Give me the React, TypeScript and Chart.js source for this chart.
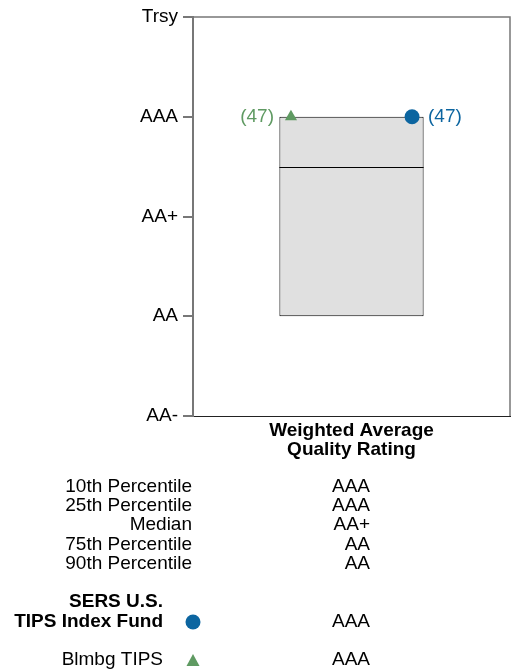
import React, { useEffect, useRef } from "react";
import { Chart, registerables } from "chart.js";

Chart.register(...registerables);

const ratingTicks = ["AA-", "AA", "AA+", "AAA", "Trsy"]; // values 1..5
const categoryLabel = ["Weighted Average", "Quality Rating"];
const categoryPos = 0.5;
// 10th, 25th, median, 75th, 90th (numeric rating scale)
const percentileValues = [4, 4, 3.5, 2, 2];
const percentileLabels = ["10th Percentile", "25th Percentile", "Median", "75th Percentile", "90th Percentile"];
const percentileText = ["AAA", "AAA", "AA+", "AA", "AA"];
const fundName = ["SERS U.S.", "TIPS Index Fund"];
const fundValue = 4;
const fundRank = 47;
const fundText = "AAA";
const benchName = "Blmbg TIPS";
const benchValue = 4;
const benchRank = 47;
const benchText = "AAA";
const fundXPos = 0.691;
const benchXPos = 0.309;

const BLUE = "#0c65a0";
const GREEN = "#5f9a62";
const FONT = "'Liberation Sans', Arial, sans-serif";
const FS = 19;

const overlayPlugin = {
  id: "overlay",
  afterDatasetsDraw(chart: any) {
    const { ctx, chartArea, scales } = chart;
    const y = scales.y;
    ctx.save();
    // border top/right
    ctx.strokeStyle = "#777777";
    ctx.lineWidth = 1.5;
    ctx.beginPath();
    ctx.moveTo(chartArea.left, chartArea.top);
    ctx.lineTo(chartArea.right, chartArea.top);
    ctx.lineTo(chartArea.right, chartArea.bottom);
    ctx.stroke();
    // median line
    const bar = chart.getDatasetMeta(0).data[0];
    if (bar) {
      const half = bar.width / 2;
      const my = Math.round(y.getPixelForValue(percentileValues[2])) + 0.5;
      ctx.strokeStyle = "#000";
      ctx.lineWidth = 1;
      ctx.beginPath();
      ctx.moveTo(bar.x - half, my);
      ctx.lineTo(bar.x + half, my);
      ctx.stroke();
    }
    // rank labels
    ctx.font = `${FS}px ${FONT}`;
    ctx.textBaseline = "middle";
    const fp = chart.getDatasetMeta(1).data[0];
    if (fp) {
      ctx.fillStyle = BLUE;
      ctx.textAlign = "left";
      ctx.fillText(`(${fundRank})`, fp.x + 16, fp.y);
    }
    const bp = chart.getDatasetMeta(2).data[0];
    if (bp) {
      ctx.fillStyle = GREEN;
      ctx.textAlign = "right";
      ctx.fillText(`(${benchRank})`, bp.x - 17, bp.y);
    }

    // table
    const labelRight = 192;
    const valueRight = 370;
    ctx.fillStyle = "#000";
    const rowY = [487, 506, 525, 545, 564];
    percentileLabels.forEach((l, i) => {
      ctx.textAlign = "right";
      ctx.fillText(l, labelRight, rowY[i]);
      ctx.fillText(percentileText[i], valueRight, rowY[i]);
    });
    ctx.font = `bold ${FS}px ${FONT}`;
    ctx.textAlign = "right";
    ctx.fillText(fundName[0], 163, 602);
    ctx.fillText(fundName[1], 163, 622);
    ctx.font = `${FS}px ${FONT}`;
    ctx.fillText(fundText, valueRight, 622);
    ctx.fillText(benchName, 163, 660);
    ctx.fillText(benchText, valueRight, 660);
    // legend markers
    ctx.fillStyle = BLUE;
    ctx.beginPath();
    ctx.arc(193, 622, 7.5, 0, Math.PI * 2);
    ctx.fill();
    ctx.fillStyle = GREEN;
    ctx.beginPath();
    ctx.moveTo(193, 654);
    ctx.lineTo(199.5, 666);
    ctx.lineTo(186.5, 666);
    ctx.closePath();
    ctx.fill();
    ctx.restore();
  },
};

export default function App() {
  const ref = useRef<HTMLCanvasElement>(null);
  useEffect(() => {
    const chart = new Chart(ref.current as HTMLCanvasElement, {
      type: "bar",
      data: {
        datasets: [
          {
            type: "bar",
            data: [{ x: categoryPos, y: [percentileValues[3], percentileValues[1]] }] as any,
            backgroundColor: "#e0e0e0",
            borderColor: "#000",
            borderWidth: 1,
            borderSkipped: false,
            barPercentage: 0.455,
            categoryPercentage: 1,
            order: 2,
          } as any,
          {
            type: "scatter",
            data: [{ x: fundXPos, y: fundValue }],
            pointStyle: "circle",
            pointRadius: 7.5,
            backgroundColor: BLUE,
            borderColor: BLUE,
            borderWidth: 0,
            order: 1,
          } as any,
          {
            type: "scatter",
            data: [{ x: benchXPos, y: benchValue }],
            pointStyle: "triangle",
            pointRadius: 7,
            backgroundColor: GREEN,
            borderColor: GREEN,
            borderWidth: 0,
            order: 0,
          } as any,
        ],
      },
      options: {
        animation: false,
        responsive: false,
        devicePixelRatio: 1,
        layout: { autoPadding: false, padding: { top: 17, right: 4, left: 0, bottom: 0 } },
        plugins: { legend: { display: false }, tooltip: { enabled: false } },
        scales: {
          x: {
            type: "linear",
            min: 0,
            max: 1,
            offset: false,
            grid: { display: false, drawTicks: false },
            border: { display: true, color: "#222", width: 1 },
            afterBuildTicks(scale: any) {
              scale.ticks = [{ value: categoryPos }];
            },
            ticks: {
              color: "#000",
              font: { family: FONT, size: FS, weight: "bold", lineHeight: 1.0 },
              padding: 5,
              maxRotation: 0,
              autoSkip: false,
              callback: () => categoryLabel,
            },
            afterFit(scale: any) {
              scale.height = 255;
            },
          },
          y: {
            type: "linear",
            min: 1,
            max: 5,
            grid: { drawOnChartArea: false, drawTicks: true, tickLength: 10, color: "#777", lineWidth: 2 },
            border: { display: true, color: "#777", width: 2 },
            ticks: {
              stepSize: 1,
              color: "#000",
              padding: 5,
              font: { family: FONT, size: FS },
              callback: (v: any) => ratingTicks[Math.round(v) - 1],
            },
            afterFit(scale: any) {
              scale.width = 193;
            },
          },
        },
      } as any,
      plugins: [overlayPlugin],
    });
    return () => chart.destroy();
  }, []);
  return (
    <div style={{ position: "absolute", left: 0, top: 0, width: 514, height: 671 }}>
      <canvas ref={ref} width={514} height={671} style={{ width: 514, height: 671 }} />
    </div>
  );
}
